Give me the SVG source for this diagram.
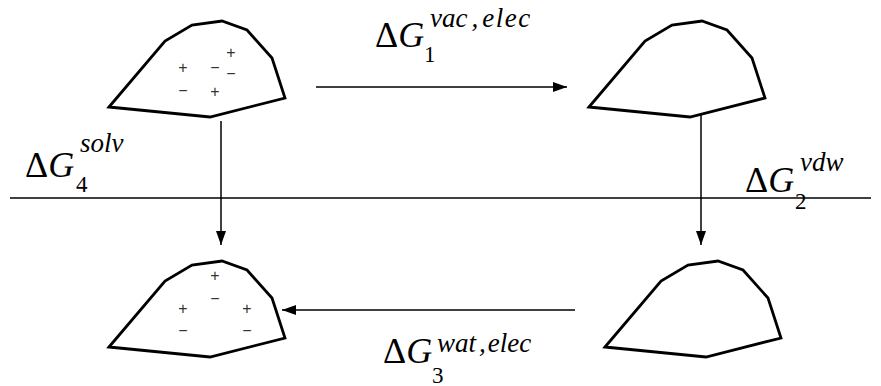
<svg xmlns="http://www.w3.org/2000/svg" width="881" height="386" viewBox="0 0 881 386">
  <defs>
    <marker id="arrow" viewBox="0 0 14 10" refX="14" refY="5" markerWidth="14" markerHeight="10" markerUnits="userSpaceOnUse" orient="auto">
      <path d="M0,0 L14,5 L0,10 Z" fill="#000"/>
    </marker>
  </defs>

  <!-- phase boundary -->
  <line x1="10" y1="198" x2="871" y2="198" stroke="#000" stroke-width="1.5"/>

  <g id="connectors" stroke="#000" stroke-width="1.5" fill="none">
    <line x1="316" y1="87" x2="567" y2="87" marker-end="url(#arrow)"/>
    <line x1="575" y1="310" x2="282" y2="310" marker-end="url(#arrow)"/>
    <line x1="221" y1="121" x2="221" y2="245" marker-end="url(#arrow)"/>
    <line x1="701" y1="113" x2="701" y2="245" marker-end="url(#arrow)"/>
  </g>

  <!-- molecule outlines, one per state -->
  <g id="charged-vacuum">
    <polygon points="109,107 165,41 192,25 222,21 247,30 272,58 285,98 210,117" fill="#fff" stroke="#000" stroke-width="2.8"/>
    <text x="231" y="58" font-family="'Liberation Sans', sans-serif" font-size="16" fill="#333" text-anchor="middle">+</text>
    <text x="183" y="73" font-family="'Liberation Sans', sans-serif" font-size="16" fill="#333" text-anchor="middle">+</text>
    <text x="215" y="73" font-family="'Liberation Sans', sans-serif" font-size="16" fill="#333" text-anchor="middle">−</text>
    <text x="231" y="79" font-family="'Liberation Sans', sans-serif" font-size="16" fill="#333" text-anchor="middle">−</text>
    <text x="183" y="96" font-family="'Liberation Sans', sans-serif" font-size="16" fill="#333" text-anchor="middle">−</text>
    <text x="215" y="97" font-family="'Liberation Sans', sans-serif" font-size="16" fill="#333" text-anchor="middle">+</text>
  </g>

  <g id="neutral-vacuum">
    <polygon points="589,107 645,41 672,25 702,21 727,30 752,58 765,98 690,117" fill="#fff" stroke="#000" stroke-width="2.8"/>
  </g>

  <g id="charged-water">
    <polygon points="109,347 165,281 192,265 222,261 247,270 272,298 285,338 210,357" fill="#fff" stroke="#000" stroke-width="2.8"/>
    <text x="215" y="281" font-family="'Liberation Sans', sans-serif" font-size="16" fill="#333" text-anchor="middle">+</text>
    <text x="215" y="304" font-family="'Liberation Sans', sans-serif" font-size="16" fill="#333" text-anchor="middle">−</text>
    <text x="183" y="314" font-family="'Liberation Sans', sans-serif" font-size="16" fill="#333" text-anchor="middle">+</text>
    <text x="247" y="314" font-family="'Liberation Sans', sans-serif" font-size="16" fill="#333" text-anchor="middle">+</text>
    <text x="183" y="336" font-family="'Liberation Sans', sans-serif" font-size="16" fill="#333" text-anchor="middle">−</text>
    <text x="247" y="336" font-family="'Liberation Sans', sans-serif" font-size="16" fill="#333" text-anchor="middle">−</text>
  </g>

  <g id="neutral-water">
    <polygon points="605,347 661,281 688,265 718,261 743,270 768,298 781,338 706,357" fill="#fff" stroke="#000" stroke-width="2.8"/>
  </g>

  <g id="label-1">
    <text x="375" y="47" font-family="'Liberation Serif', serif" font-size="36">Δ<tspan font-style="italic">G</tspan></text>
    <text x="424" y="62" font-family="'Liberation Serif', serif" font-size="23">1</text>
    <text x="430" y="27" font-family="'Liberation Serif', serif" font-size="27" font-style="italic">vac<tspan dx="4">,</tspan><tspan dx="4" letter-spacing="1.5">elec</tspan></text>
  </g>

  <g id="label-2">
    <text x="745" y="192" font-family="'Liberation Serif', serif" font-size="36">Δ<tspan font-style="italic">G</tspan></text>
    <text x="795" y="209" font-family="'Liberation Serif', serif" font-size="23">2</text>
    <text x="800" y="171" font-family="'Liberation Serif', serif" font-size="27" font-style="italic">vdw</text>
  </g>

  <g id="label-3">
    <text x="383" y="363" font-family="'Liberation Serif', serif" font-size="36">Δ<tspan font-style="italic">G</tspan></text>
    <text x="432" y="383" font-family="'Liberation Serif', serif" font-size="23">3</text>
    <text x="437" y="352" font-family="'Liberation Serif', serif" font-size="27" font-style="italic">wat<tspan dx="3">,</tspan><tspan dx="2">elec</tspan></text>
  </g>

  <g id="label-4">
    <text x="25" y="177" font-family="'Liberation Serif', serif" font-size="36">Δ<tspan font-style="italic">G</tspan></text>
    <text x="76" y="192" font-family="'Liberation Serif', serif" font-size="23">4</text>
    <text x="80" y="152" font-family="'Liberation Serif', serif" font-size="27" font-style="italic">solv</text>
  </g>
</svg>
